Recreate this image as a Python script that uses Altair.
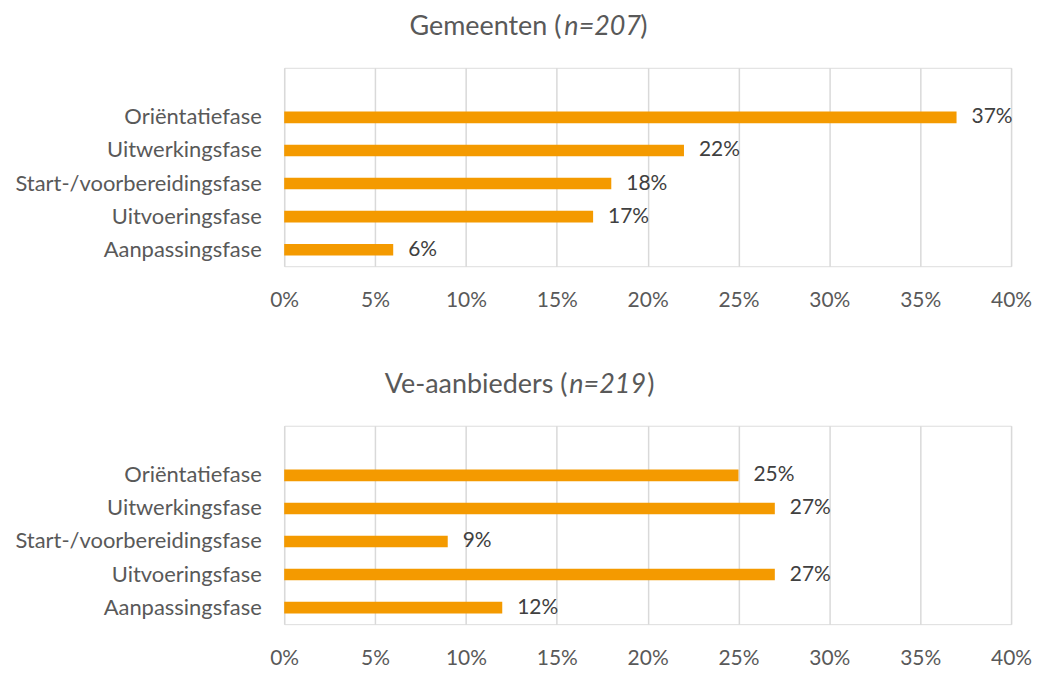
import altair as alt
import pandas as pd

categories = ["Oriëntatiefase", "Uitwerkingsfase", "Start-/voorbereidingsfase",
              "Uitvoeringsfase", "Aanpassingsfase"]
gemeenten = [0.37, 0.22, 0.18, 0.17, 0.06]
aanbieders = [0.25, 0.27, 0.09, 0.27, 0.12]
tick_values = [0, 0.05, 0.10, 0.15, 0.20, 0.25, 0.30, 0.35, 0.40]

title_gemeenten = ["Gemeenten (", "n=207", ")"]
title_aanbieders = ["Ve-aanbieders (", "n=219", ")"]

FONT = "Lato"
BAR = "#F49A00"
LABEL = "#595959"
DATA = "#404040"

domain = [" "] + categories


def panel(values, parts, xpos):
    df = pd.DataFrame({"cat": categories, "val": values})
    y = alt.Y("cat:N",
              scale=alt.Scale(domain=domain, paddingInner=0.65, paddingOuter=0.325),
              axis=alt.Axis(title=None, domain=False, ticks=False, labelPadding=23,
                            labelFontSize=22, labelColor=LABEL, labelFont=FONT,
                            labelLimit=0, minExtent=271, maxExtent=271))
    x = alt.X("val:Q", scale=alt.Scale(domain=[0, 0.4]),
              axis=alt.Axis(values=tick_values, format=".0%", title=None, domain=False,
                            ticks=False, grid=True, gridColor="#d9d9d9", gridWidth=1.5,
                            labelPadding=23, labelFontSize=21, labelColor=LABEL,
                            labelFont=FONT, labelFlush=False, labelOverlap=False))
    bars = alt.Chart(df).mark_bar(color=BAR).encode(x=x, y=y)
    labels = alt.Chart(df).mark_text(
        align="left", baseline="middle", dx=15, fontSize=21, color=DATA, font=FONT
    ).encode(x="val:Q", y="cat:N", text=alt.Text("val:Q", format=".0%"))

    tdf = pd.DataFrame({"a": [parts[0]], "b": [parts[1]], "c": [parts[2]]})
    t1 = alt.Chart(tdf).mark_text(align="right", baseline="middle", fontSize=27,
                                  color=LABEL, font=FONT).encode(
        x=alt.value(xpos[0]), y=alt.value(-41), text="a:N")
    t2 = alt.Chart(tdf).mark_text(align="left", baseline="middle", fontSize=27,
                                  color=LABEL, font=FONT, fontStyle="italic").encode(
        x=alt.value(xpos[1]), y=alt.value(-41), text="b:N")
    t3 = alt.Chart(tdf).mark_text(align="left", baseline="middle", fontSize=27,
                                  color=LABEL, font=FONT).encode(
        x=alt.value(xpos[2]), y=alt.value(-41), text="c:N")
    return alt.layer(bars, labels, t1, t2, t3).properties(width=729, height=199)


top = panel(gemeenten, title_gemeenten, [278, 281, 357])
bottom = panel(aanbieders, title_aanbieders, [284, 286, 364])

chart = alt.vconcat(top, bottom, spacing=59).properties(
    padding={"left": 5, "top": 3, "right": 0, "bottom": 0}
).configure_view(strokeWidth=0).configure(font=FONT)

chart.save("out.html", embed_options={"renderer": "svg", "actions": False})
